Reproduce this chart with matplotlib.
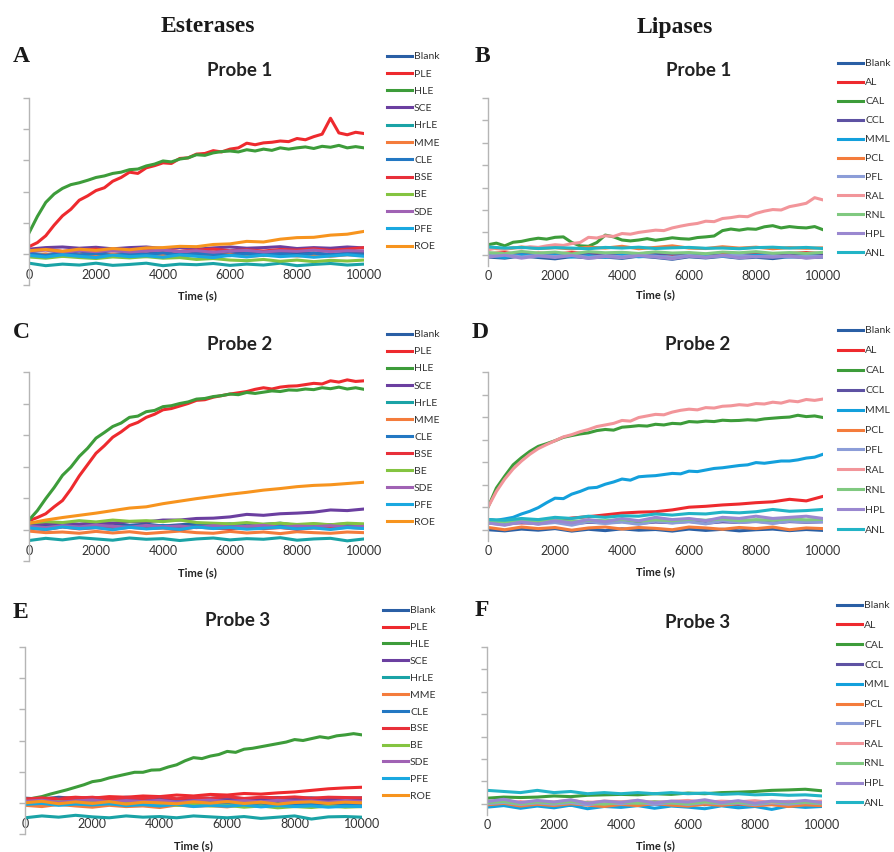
import numpy as np
import matplotlib
matplotlib.use('Agg')
import matplotlib.pyplot as plt

W, H = 895, 852

# time grids (s)
t_fine = np.arange(0, 10001, 250)
t_coarse = np.arange(0, 10001, 500)

esterase_labels = ['Blank', 'PLE', 'HLE', 'SCE', 'HrLE', 'MME', 'CLE', 'BSE', 'BE', 'SDE', 'PFE', 'ROE']
esterase_colors = ['#2a5fa5', '#ee2a2e', '#3d9c3a', '#6b3fa0', '#1aa3a6', '#f47c3c',
                   '#2378c3', '#e8303a', '#84c441', '#a062b4', '#1aa8e0', '#f7941e']
lipase_labels = ['Blank', 'AL', 'CAL', 'CCL', 'MML', 'PCL', 'PFL', 'RAL', 'RNL', 'HPL', 'ANL']
lipase_colors = ['#2a5fa5', '#ee2a2e', '#3d9c3a', '#5e52a3', '#13a0dc', '#f47c3c',
                 '#8c9dd8', '#f2959a', '#80c980', '#9a88d0', '#22b4c6']

# ---- A: esterases, probe 1 ----
panel_a = {
    'Blank': [0.02, -0.03, 0.04, 0.00, 0.05, -0.02, 0.03, 0.00, 0.04, -0.02, 0.02, 0.05, 0.00, 0.03, -0.01, 0.04, 0.01, 0.03, -0.02, 0.02, 0.03],
    'PLE': [0.23, 0.36, 0.58, 0.92, 1.22, 1.43, 1.72, 1.86, 2.03, 2.12,
            2.33, 2.45, 2.62, 2.58, 2.76, 2.83, 2.92, 2.90, 3.06, 3.08,
            3.20, 3.22, 3.31, 3.27, 3.36, 3.40, 3.55, 3.50, 3.56, 3.58,
            3.62, 3.60, 3.70, 3.66, 3.76, 3.84, 4.35, 3.88, 3.82, 3.90, 3.86],
    'HLE': [0.67, 1.20, 1.65, 1.92, 2.10, 2.22, 2.28, 2.36, 2.45, 2.50,
            2.58, 2.62, 2.70, 2.72, 2.82, 2.88, 2.98, 2.95, 3.04, 3.08,
            3.18, 3.16, 3.24, 3.28, 3.30, 3.27, 3.34, 3.30, 3.36, 3.32,
            3.40, 3.36, 3.40, 3.43, 3.38, 3.45, 3.42, 3.48, 3.40, 3.44, 3.40],
    'SCE': [0.15, 0.20, 0.22, 0.18, 0.21, 0.16, 0.20, 0.22, 0.17, 0.20, 0.15, 0.19, 0.22, 0.18, 0.20, 0.23, 0.17, 0.20, 0.18, 0.22, 0.19],
    'HrLE': [-0.30, -0.38, -0.33, -0.36, -0.30, -0.37, -0.34, -0.30, -0.38, -0.33, -0.35, -0.31, -0.37, -0.33, -0.36, -0.30, -0.38, -0.34, -0.31, -0.36, -0.33],
    'MME': [-0.05, 0.00, -0.08, -0.03, -0.07, -0.02, -0.06, -0.09, -0.04, -0.07, -0.02, -0.06, -0.03, -0.08, -0.05, -0.02, -0.07, -0.04, -0.08, -0.03, -0.05],
    'CLE': [0.00, -0.05, 0.02, -0.04, 0.01, -0.06, 0.00, -0.03, 0.03, -0.05, 0.00, -0.02, -0.06, 0.01, -0.04, 0.00, -0.05, 0.02, -0.03, 0.00, -0.04],
    'BSE': [0.10, 0.14, 0.08, 0.12, 0.15, 0.09, 0.13, 0.10, 0.14, 0.08, 0.12, 0.15, 0.10, 0.13, 0.09, 0.14, 0.12, 0.16, 0.11, 0.15, 0.20],
    'BE': [-0.10, -0.14, -0.08, -0.12, -0.15, -0.10, -0.13, -0.09, -0.14, -0.12, -0.18, -0.15, -0.20, -0.22, -0.18, -0.24, -0.20, -0.25, -0.21, -0.23, -0.20],
    'SDE': [0.08, 0.12, 0.05, 0.10, 0.07, 0.11, 0.06, 0.09, 0.12, 0.07, 0.10, 0.05, 0.09, 0.11, 0.06, 0.10, 0.08, 0.12, 0.07, 0.10, 0.09],
    'PFE': [-0.05, -0.10, -0.03, -0.08, -0.12, -0.04, -0.09, -0.06, -0.11, -0.03, -0.08, -0.12, -0.05, -0.10, -0.04, -0.09, -0.06, -0.11, -0.07, -0.03, -0.08],
    'ROE': [0.10, 0.14, 0.08, 0.15, 0.11, 0.17, 0.13, 0.19, 0.20, 0.24, 0.23, 0.30, 0.32, 0.40, 0.38, 0.47, 0.52, 0.53, 0.60, 0.63, 0.72],
}

# ---- B: lipases, probe 1 ----
panel_b = {
    'Blank': [-0.10, -0.15, -0.05, -0.12, -0.18, -0.08, -0.14, -0.10, -0.16, -0.06, -0.12, -0.20, -0.09, -0.14, -0.07, -0.15, -0.11, -0.17, -0.08, -0.13, -0.10],
    'AL': [0.05, 0.10, 0.00, 0.08, 0.03, 0.10, 0.05, 0.00, 0.08, 0.04, 0.10, 0.02, 0.07, 0.00, 0.09, 0.04, 0.08, 0.01, 0.06, 0.10, 0.05],
    'CAL': [0.45, 0.52, 0.40, 0.56, 0.60, 0.68, 0.74, 0.70, 0.78, 0.80,
            0.55, 0.40, 0.38, 0.55, 0.88, 0.80, 0.66, 0.62, 0.66, 0.72,
            0.65, 0.70, 0.76, 0.72, 0.70, 0.77, 0.80, 0.84, 1.08, 1.15,
            1.10, 1.16, 1.14, 1.25, 1.30, 1.20, 1.26, 1.22, 1.20, 1.26, 1.12],
    'CCL': [0.00, -0.06, 0.04, -0.03, 0.05, -0.05, 0.02, -0.04, 0.03, -0.06, 0.01, 0.04, -0.03, 0.02, -0.05, 0.03, -0.02, 0.04, -0.04, 0.01, -0.02],
    'MML': [-0.05, -0.12, 0.00, -0.08, -0.03, -0.10, -0.04, -0.12, -0.02, -0.09, -0.05, -0.15, -0.03, -0.08, -0.06, -0.11, -0.02, -0.07, -0.10, -0.04, -0.08],
    'PCL': [0.30, 0.25, 0.35, 0.28, 0.32, 0.26, 0.34, 0.30, 0.38, 0.27, 0.33, 0.40, 0.30, 0.28, 0.36, 0.30, 0.34, 0.27, 0.32, 0.29, 0.31],
    'PFL': [-0.05, 0.02, -0.10, -0.02, -0.08, 0.00, -0.12, -0.04, -0.09, -0.01, -0.07, -0.12, -0.03, -0.10, -0.05, -0.02, -0.09, -0.04, -0.11, -0.06, -0.08],
    'RAL': [0.22, 0.30, 0.25, 0.33, 0.30, 0.36, 0.33, 0.40, 0.45, 0.42,
            0.50, 0.55, 0.78, 0.75, 0.85, 0.82, 0.95, 0.92, 1.00, 1.05,
            1.10, 1.08, 1.20, 1.28, 1.35, 1.40, 1.50, 1.48, 1.62, 1.66,
            1.72, 1.70, 1.85, 1.95, 2.02, 2.00, 2.15, 2.22, 2.30, 2.55, 2.45],
    'RNL': [0.10, 0.05, 0.15, 0.08, 0.12, 0.04, 0.14, 0.09, 0.11, 0.06, 0.13, 0.08, 0.10, 0.05, 0.12, 0.09, 0.14, 0.07, 0.10, 0.06, 0.11],
    'HPL': [-0.10, -0.02, -0.15, -0.05, -0.12, -0.03, -0.16, -0.08, -0.13, -0.04, -0.10, -0.18, -0.06, -0.12, -0.03, -0.14, -0.08, -0.11, -0.05, -0.15, -0.09],
    'ANL': [0.35, 0.30, 0.33, 0.28, 0.32, 0.30, 0.27, 0.33, 0.30, 0.34, 0.28, 0.31, 0.33, 0.29, 0.30, 0.27, 0.32, 0.34, 0.30, 0.33, 0.28],
}

# ---- C: esterases, probe 2 ----
panel_c = {
    'Blank': [0.15, 0.10, 0.18, 0.12, 0.16, 0.20, 0.13, 0.17, 0.11, 0.15, 0.19, 0.14, 0.18, 0.12, 0.16, 0.20, 0.13, 0.17, 0.15, 0.18, 0.14],
    'PLE': [0.28, 0.38, 0.50, 0.72, 0.92, 1.28, 1.70, 2.06, 2.42, 2.66,
            2.93, 3.10, 3.30, 3.40, 3.56, 3.66, 3.80, 3.84, 3.92, 4.00,
            4.10, 4.12, 4.20, 4.25, 4.30, 4.34, 4.38, 4.45, 4.50, 4.46,
            4.52, 4.55, 4.56, 4.60, 4.64, 4.62, 4.72, 4.68, 4.75, 4.70, 4.72],
    'HLE': [0.30, 0.60, 0.98, 1.33, 1.72, 1.98, 2.32, 2.58, 2.90, 3.08,
            3.27, 3.38, 3.56, 3.60, 3.74, 3.78, 3.90, 3.93, 4.00, 4.05,
            4.14, 4.16, 4.22, 4.25, 4.30, 4.28, 4.35, 4.32, 4.36, 4.40,
            4.38, 4.43, 4.42, 4.46, 4.44, 4.50, 4.47, 4.52, 4.46, 4.50, 4.45],
    'SCE': [0.15, 0.18, 0.20, 0.17, 0.22, 0.20, 0.25, 0.24, 0.30, 0.30, 0.35, 0.36, 0.40, 0.48, 0.45, 0.50, 0.52, 0.55, 0.62, 0.60, 0.65],
    'HrLE': [-0.35, -0.28, -0.33, -0.26, -0.30, -0.34, -0.27, -0.31, -0.29, -0.35, -0.30, -0.27, -0.33, -0.29, -0.31, -0.26, -0.34, -0.30, -0.28, -0.36, -0.30],
    'MME': [-0.05, -0.10, -0.08, -0.12, -0.06, -0.11, -0.07, -0.13, -0.09, -0.05, -0.10, -0.12, -0.06, -0.11, -0.08, -0.13, -0.07, -0.10, -0.12, -0.08, -0.10],
    'CLE': [0.10, 0.05, 0.12, 0.08, 0.14, 0.06, 0.11, 0.09, 0.13, 0.07, 0.12, 0.08, 0.15, 0.10, 0.06, 0.12, 0.09, 0.14, 0.08, 0.11, 0.10],
    'BSE': [0.05, 0.00, 0.08, 0.02, 0.06, 0.01, 0.07, 0.03, 0.05, 0.00, 0.08, 0.04, 0.02, 0.07, 0.03, 0.06, 0.01, 0.05, 0.03, 0.07, 0.04],
    'BE': [0.20, 0.25, 0.22, 0.28, 0.24, 0.30, 0.26, 0.28, 0.25, 0.30, 0.22, 0.20, 0.18, 0.22, 0.17, 0.20, 0.16, 0.19, 0.15, 0.20, 0.18],
    'SDE': [0.10, 0.06, 0.12, 0.08, 0.14, 0.10, 0.07, 0.13, 0.09, 0.11, 0.06, 0.12, 0.08, 0.10, 0.13, 0.07, 0.11, 0.09, 0.12, 0.08, 0.10],
    'PFE': [0.05, 0.00, 0.08, 0.03, 0.06, -0.01, 0.07, 0.02, 0.05, 0.00, 0.08, 0.03, 0.06, 0.01, 0.04, 0.07, 0.02, 0.05, 0.00, 0.06, 0.03],
    'ROE': [0.20, 0.30, 0.38, 0.45, 0.52, 0.60, 0.68, 0.72, 0.82, 0.90, 0.98, 1.05, 1.12, 1.18, 1.25, 1.30, 1.36, 1.40, 1.42, 1.46, 1.50],
}

# ---- D: lipases, probe 2 ----
panel_d = {
    'Blank': [0.00, -0.05, 0.03, -0.02, 0.05, -0.06, 0.02, -0.04, 0.04, -0.02, 0.01, -0.06, 0.03, -0.03, 0.02, -0.05, 0.00, 0.03, -0.04, 0.01, -0.03],
    'AL': [0.45, 0.35, 0.30, 0.32, 0.40, 0.52, 0.58, 0.66, 0.74, 0.78, 0.80, 0.88, 1.00, 1.04, 1.10, 1.14, 1.20, 1.24, 1.35, 1.28, 1.48],
    'CAL': [1.00, 1.85, 2.38, 2.88, 3.20, 3.48, 3.70, 3.82, 3.95, 4.10,
            4.18, 4.25, 4.30, 4.40, 4.45, 4.42, 4.55, 4.58, 4.62, 4.60,
            4.68, 4.65, 4.72, 4.70, 4.80, 4.78, 4.82, 4.80, 4.86, 4.84,
            4.85, 4.88, 4.86, 4.92, 4.95, 4.98, 5.00, 5.08, 5.02, 5.05, 4.98],
    'CCL': [0.30, 0.25, 0.32, 0.28, 0.35, 0.26, 0.33, 0.30, 0.36, 0.28, 0.34, 0.31, 0.37, 0.29, 0.35, 0.32, 0.38, 0.30, 0.36, 0.33, 0.35],
    'MML': [0.45, 0.42, 0.48, 0.55, 0.70, 0.82, 0.98, 1.20, 1.40, 1.38,
            1.58, 1.70, 1.85, 1.88, 2.02, 2.12, 2.25, 2.20, 2.35, 2.38,
            2.40, 2.45, 2.50, 2.48, 2.60, 2.58, 2.65, 2.72, 2.75, 2.80,
            2.85, 2.88, 2.98, 2.95, 3.00, 3.05, 3.05, 3.10, 3.18, 3.22, 3.35],
    'PCL': [0.10, 0.00, 0.12, 0.05, 0.10, -0.02, 0.08, 0.12, 0.03, 0.10, 0.06, 0.00, 0.12, 0.08, 0.02, 0.10, 0.05, 0.12, 0.00, 0.08, 0.05],
    'PFL': [0.30, 0.22, 0.35, 0.25, 0.32, 0.20, 0.36, 0.28, 0.34, 0.24, 0.38, 0.30, 0.35, 0.26, 0.40, 0.32, 0.36, 0.28, 0.38, 0.34, 0.36],
    'RAL': [1.00, 1.70, 2.25, 2.70, 3.05, 3.35, 3.60, 3.78, 3.95, 4.12,
            4.22, 4.35, 4.45, 4.58, 4.65, 4.72, 4.85, 4.82, 4.98, 5.05,
            5.12, 5.10, 5.22, 5.30, 5.35, 5.32, 5.42, 5.40, 5.48, 5.50,
            5.55, 5.52, 5.60, 5.58, 5.66, 5.62, 5.72, 5.68, 5.78, 5.74, 5.80],
    'RNL': [0.40, 0.35, 0.42, 0.38, 0.44, 0.36, 0.42, 0.40, 0.45, 0.38, 0.44, 0.40, 0.46, 0.42, 0.48, 0.40, 0.45, 0.42, 0.48, 0.44, 0.46],
    'HPL': [0.30, 0.20, 0.35, 0.25, 0.40, 0.30, 0.45, 0.35, 0.50, 0.40, 0.55, 0.45, 0.50, 0.40, 0.55, 0.50, 0.60, 0.50, 0.55, 0.60, 0.50],
    'ANL': [0.45, 0.42, 0.50, 0.45, 0.55, 0.50, 0.60, 0.55, 0.62, 0.60, 0.70, 0.65, 0.72, 0.70, 0.78, 0.75, 0.80, 0.90, 0.82, 0.85, 0.90],
}

# ---- E: esterases, probe 3 ----
panel_e = {
    'Blank': [0.15, 0.12, 0.18, 0.14, 0.16, 0.13, 0.18, 0.15, 0.17, 0.12, 0.16, 0.14, 0.18, 0.13, 0.15, 0.17, 0.14, 0.16, 0.12, 0.15, 0.16],
    'PLE': [0.12, 0.15, 0.14, 0.18, 0.15, 0.20, 0.18, 0.22, 0.20, 0.25, 0.22, 0.27, 0.25, 0.30, 0.28, 0.32, 0.35, 0.40, 0.45, 0.48, 0.50],
    'HLE': [0.10, 0.15, 0.20, 0.28, 0.35, 0.42, 0.50, 0.58, 0.68, 0.72,
            0.80, 0.86, 0.92, 0.98, 0.98, 1.05, 1.06, 1.15, 1.22, 1.35,
            1.45, 1.42, 1.50, 1.55, 1.65, 1.62, 1.72, 1.75, 1.80, 1.85,
            1.90, 1.95, 2.03, 2.00, 2.06, 2.12, 2.08, 2.15, 2.18, 2.22, 2.18],
    'SCE': [0.10, 0.05, 0.12, 0.08, 0.11, 0.06, 0.10, 0.13, 0.07, 0.09, 0.12, 0.06, 0.10, 0.08, 0.12, 0.07, 0.10, 0.09, 0.11, 0.06, 0.09],
    'HrLE': [-0.48, -0.42, -0.46, -0.40, -0.45, -0.48, -0.42, -0.46, -0.44, -0.48, -0.42, -0.45, -0.48, -0.44, -0.50, -0.46, -0.42, -0.52, -0.45, -0.44, -0.46],
    'MME': [-0.08, -0.12, -0.05, -0.10, -0.14, -0.08, -0.12, -0.10, -0.15, -0.07, -0.11, -0.09, -0.13, -0.06, -0.10, -0.12, -0.08, -0.11, -0.09, -0.12, -0.10],
    'CLE': [0.10, 0.06, 0.12, 0.08, 0.05, 0.10, 0.03, 0.06, 0.00, 0.04, -0.02, 0.02, -0.04, 0.00, -0.05, -0.02, -0.06, -0.03, -0.07, -0.04, -0.06],
    'BSE': [0.12, 0.16, 0.10, 0.15, 0.18, 0.12, 0.16, 0.14, 0.19, 0.13, 0.17, 0.15, 0.20, 0.14, 0.18, 0.16, 0.19, 0.15, 0.18, 0.17, 0.16],
    'BE': [0.05, 0.00, 0.04, -0.02, 0.02, -0.03, 0.00, -0.05, -0.02, -0.08, -0.05, -0.10, -0.08, -0.14, -0.10, -0.16, -0.12, -0.15, -0.10, -0.14, -0.12],
    'SDE': [0.05, 0.08, 0.02, 0.06, 0.09, 0.03, 0.07, 0.04, 0.08, 0.02, 0.06, 0.09, 0.04, 0.07, 0.03, 0.08, 0.05, 0.06, 0.02, 0.07, 0.04],
    'PFE': [-0.05, -0.02, -0.08, -0.04, -0.07, -0.03, -0.09, -0.06, -0.10, -0.05, -0.12, -0.08, -0.11, -0.07, -0.13, -0.09, -0.12, -0.10, -0.14, -0.11, -0.12],
    'ROE': [0.00, 0.05, -0.03, 0.03, -0.02, 0.04, -0.04, 0.02, 0.00, -0.03, 0.03, -0.01, 0.04, -0.02, 0.02, -0.04, 0.01, 0.03, -0.02, 0.02, 0.00],
}

# ---- F: lipases, probe 3 ----
panel_f = {
    'Blank': [0.00, -0.06, 0.03, -0.04, 0.02, -0.07, 0.01, -0.03, 0.04, -0.05, 0.00, -0.06, 0.02, -0.04, 0.03, -0.05, 0.01, -0.03, -0.06, 0.02, -0.02],
    'AL': [0.05, 0.00, 0.08, 0.02, 0.06, -0.02, 0.07, 0.03, 0.05, 0.00, 0.08, 0.02, 0.06, 0.01, 0.07, 0.03, 0.05, 0.00, 0.06, 0.02, 0.04],
    'CAL': [0.25, 0.30, 0.28, 0.30, 0.35, 0.32, 0.38, 0.40, 0.42, 0.40, 0.45, 0.42, 0.48, 0.45, 0.50, 0.52, 0.55, 0.60, 0.62, 0.65, 0.58],
    'CCL': [0.00, 0.05, -0.04, 0.03, -0.02, 0.06, -0.03, 0.02, -0.05, 0.04, 0.00, -0.03, 0.05, -0.02, 0.03, -0.04, 0.02, 0.05, -0.03, 0.01, 0.00],
    'MML': [-0.15, -0.08, -0.20, -0.10, -0.18, -0.06, -0.22, -0.12, -0.16, -0.08, -0.20, -0.10, -0.15, -0.22, -0.09, -0.18, -0.12, -0.25, -0.10, -0.16, -0.12],
    'PCL': [-0.05, 0.02, -0.10, -0.02, -0.08, 0.00, -0.06, -0.12, -0.03, -0.08, 0.01, -0.06, -0.10, -0.02, -0.07, 0.00, -0.09, -0.04, -0.12, -0.05, -0.08],
    'PFL': [0.00, 0.06, -0.03, 0.04, -0.02, 0.05, -0.04, 0.03, 0.00, 0.06, -0.02, 0.04, -0.03, 0.05, 0.00, 0.03, -0.04, 0.04, -0.02, 0.05, 0.00],
    'RAL': [0.10, 0.15, 0.06, 0.12, 0.08, 0.16, 0.05, 0.12, 0.09, 0.14, 0.06, 0.11, 0.15, 0.07, 0.12, 0.09, 0.14, 0.06, 0.11, 0.08, 0.12],
    'RNL': [0.05, 0.10, 0.00, 0.08, 0.03, 0.10, 0.05, -0.02, 0.07, 0.02, 0.09, 0.04, 0.00, 0.08, 0.03, 0.06, 0.01, 0.09, 0.04, 0.07, 0.02],
    'HPL': [0.10, 0.20, 0.05, 0.15, 0.08, 0.18, 0.02, 0.12, 0.06, 0.16, 0.04, 0.12, 0.08, 0.18, 0.05, 0.14, 0.02, 0.12, 0.08, 0.15, 0.05],
    'ANL': [0.60, 0.55, 0.50, 0.60, 0.50, 0.55, 0.45, 0.50, 0.45, 0.50, 0.45, 0.50, 0.45, 0.48, 0.42, 0.45, 0.40, 0.42, 0.38, 0.40, 0.35],
}

SANS = ['Lato', 'DejaVu Sans']
SERIF = ['Liberation Serif', 'DejaVu Serif']
GRAY = '#b5b5b5'


def px_rect(x0, y_top, x1, y_bot):
    return [x0 / W, 1 - y_bot / H, (x1 - x0) / W, (y_bot - y_top) / H]


fig = plt.figure(figsize=(W / 100, H / 100), dpi=100)

# (letter, data, labels, colors, title, axes px box, ylim, legend x, legend first y, legend step, title x, title y, xlabel x, xlabel y, letter x, letter y)
panels = [
    ('A', panel_a, esterase_labels, esterase_colors, 'Probe 1', (29, 98, 364, 285), (-1, 5),
     387, 59, 21.0, 240, 71, 197, 296, 21, 57),
    ('B', panel_b, lipase_labels, lipase_colors, 'Probe 1', (488, 98, 823, 266), (-0.5, 7),
     838, 66, 22.7, 699, 70, 655, 295, 482, 57),
    ('C', panel_c, esterase_labels, esterase_colors, 'Probe 2', (29, 372, 364, 561), (-1, 5),
     387, 337, 20.8, 240, 345, 197, 573, 21, 333),
    ('D', panel_d, lipase_labels, lipase_colors, 'Probe 2', (488, 372, 823, 541), (-0.5, 7),
     838, 333, 23.7, 698, 345, 655, 572, 480, 333),
    ('E', panel_e, esterase_labels, esterase_colors, 'Probe 3', (25, 647, 362, 834), (-1, 5),
     383, 613, 20.6, 238, 620, 193, 846, 20, 613),
    ('F', panel_f, lipase_labels, lipase_colors, 'Probe 3', (487, 647, 822, 815), (-0.5, 7),
     837, 608, 23.5, 698, 622, 655, 846, 482, 610),
]

leg_fs = 7.5
leg_fs_px = leg_fs * 100 / 72

for (letter, data, labels, colors, title, box, ylim,
     lx, ly, lstep, tx, ty, xlx, xly, ltx, lty) in panels:
    ax = fig.add_axes(px_rect(*box))
    for name, col in zip(labels, colors):
        y = data[name]
        t = t_fine if len(y) == len(t_fine) else t_coarse
        ax.plot(t, y, color=col, lw=2.2, label=name)

    ax.set_xlim(0, 10000)
    ax.set_ylim(*ylim)
    ax.set_xticks(np.arange(0, 10001, 2000))
    ax.set_yticks(np.arange(np.ceil(ylim[0]), ylim[1] + 0.01, 1))
    ax.set_yticklabels([])
    for s in ['top', 'right']:
        ax.spines[s].set_visible(False)
    ax.spines['bottom'].set_position(('data', 0))
    ax.spines['bottom'].set_visible(False)
    ax.spines['left'].set_color(GRAY)
    ax.spines['left'].set_linewidth(1.0)
    ax.tick_params(axis='x', length=0, pad=11, labelsize=9, labelcolor='#333333')
    ax.tick_params(axis='y', length=4, color=GRAY, width=1.0, direction='out')
    for lab in ax.get_xticklabels():
        lab.set_family(SANS)

    spacing = (lstep - 1.25 * leg_fs_px) / leg_fs_px
    leg = ax.legend(loc='upper left', bbox_to_anchor=(lx / W, 1 - (ly - 7) / H),
                    bbox_transform=fig.transFigure, frameon=False,
                    prop={'family': SANS, 'size': leg_fs}, handlelength=2.4,
                    handletextpad=0.2, labelspacing=spacing, borderpad=0, borderaxespad=0)
    for txt in leg.get_texts():
        txt.set_color('#333333')
    for ln in leg.get_lines():
        ln.set_linewidth(2.2)

    fig.text(tx / W, 1 - ty / H, title, ha='center', va='center',
             family=SANS, weight='bold', size=13.5, color='#222222')
    fig.text(xlx / W, 1 - xly / H, 'Time (s)', ha='center', va='center',
             family=SANS, weight='bold', size=8, color='#222222')
    fig.text(ltx / W, 1 - lty / H, letter, ha='center', va='center',
             family=SERIF, weight='bold', size=17, color='#1a1a1a')

fig.text(208 / W, 1 - 27 / H, 'Esterases', ha='center', va='center',
         family=SERIF, weight='bold', size=17, color='#1a1a1a')
fig.text(675 / W, 1 - 27 / H, 'Lipases', ha='center', va='center',
         family=SERIF, weight='bold', size=17, color='#1a1a1a')

fig.savefig('out.png', dpi=100)
